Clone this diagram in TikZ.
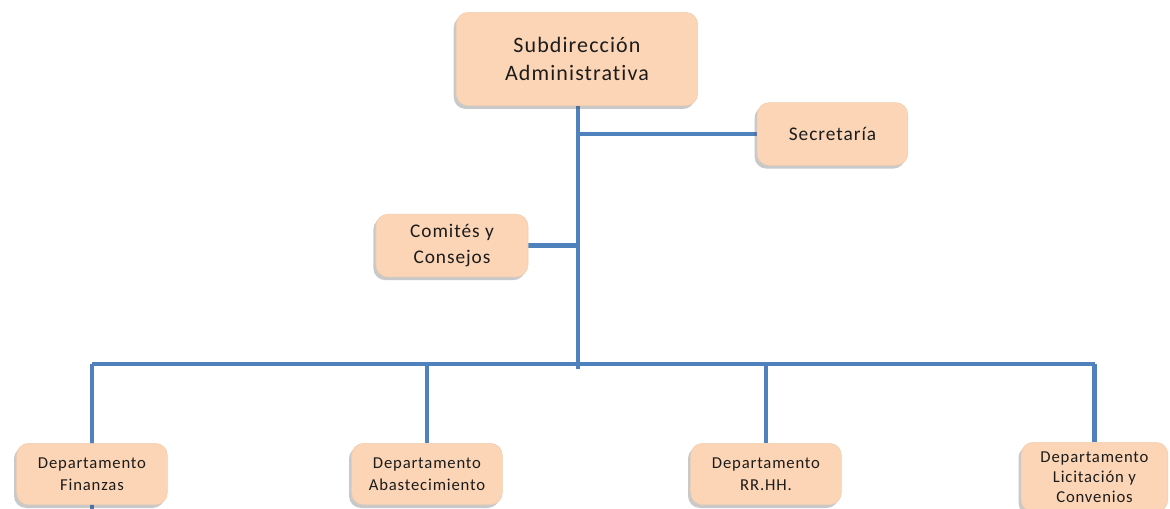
\documentclass[tikz,border=0pt]{standalone}
\usepackage{fontspec}
\setmainfont{Carlito}[LetterSpace=5,RawFeature={-liga}]
\usetikzlibrary{shadows,backgrounds}
\definecolor{boxfill}{HTML}{FBD5B5}
\definecolor{linkblue}{HTML}{4F81BD}
\definecolor{txt}{HTML}{1C1C1C}
\tikzset{
  orgbox/.style={draw=boxfill!85!black!25!boxfill, fill=boxfill, rounded corners=9pt,
    align=center, text=txt, inner sep=2pt,
    drop shadow={shadow xshift=-2pt, shadow yshift=-2.5pt, opacity=0.3, fill=black!70}},
  link/.style={draw=linkblue, line width=3.6pt},
  bigtxt/.style={font=\fontsize{16.5}{20.5}\selectfont},
  midtxt/.style={font=\fontsize{14.5}{19.5}\selectfont},
  smalltxt/.style={font=\fontsize{12.5}{16.2}\selectfont},
  tighttxt/.style={font=\fontsize{12.5}{15.2}\selectfont}
}
\begin{document}
\begin{tikzpicture}[x=0.75pt,y=-0.75pt]
\useasboundingbox (0,0) rectangle (1170,509);
\clip (0,0) rectangle (1170,509);
\node[orgbox, bigtxt, minimum width=181pt, minimum height=70pt] (top) at (577,59) {Subdirección\\Administrativa};
\node[orgbox, midtxt, minimum width=113pt, minimum height=47pt] (sec) at (832.5,134) {Secretaría};
\node[orgbox, midtxt, minimum width=114pt, minimum height=47pt] (com) at (452,245.5) {Comités y\\Consejos};
\node[orgbox, smalltxt, minimum width=113pt, minimum height=46pt] (fin) at (92,474) {Departamento\\Finanzas};
\node[orgbox, smalltxt, minimum width=113pt, minimum height=46pt] (aba) at (427,474) {Departamento\\Abastecimiento};
\node[orgbox, smalltxt, minimum width=113pt, minimum height=46pt] (rrhh) at (766,474) {Departamento\\RR.HH.};
\node[orgbox, tighttxt, minimum width=110pt, minimum height=52pt] (lic) at (1094.5,477) {Departamento\\Licitación y\\Convenios};
\coordinate (bus) at (578,364);
\coordinate (trunkend) at (578,369);
\begin{pgfonlayer}{background}
\draw[link] (top.south -| bus) -- (trunkend);
\draw[link] (top.south |- sec.west) -- (sec.west);
\draw[link] (com.east) -- (com.east -| bus);
\draw[link] (fin.south |- bus) -- (lic.north |- bus);
\draw[link] (fin.north |- bus) -- ([yshift=-12pt]fin.south);
\draw[link] (aba.north |- bus) -- (aba.north);
\draw[link] (rrhh.north |- bus) -- (rrhh.north);
\draw[link] (lic.north |- bus) -- (lic.north);
\end{pgfonlayer}
\end{tikzpicture}
\end{document}
